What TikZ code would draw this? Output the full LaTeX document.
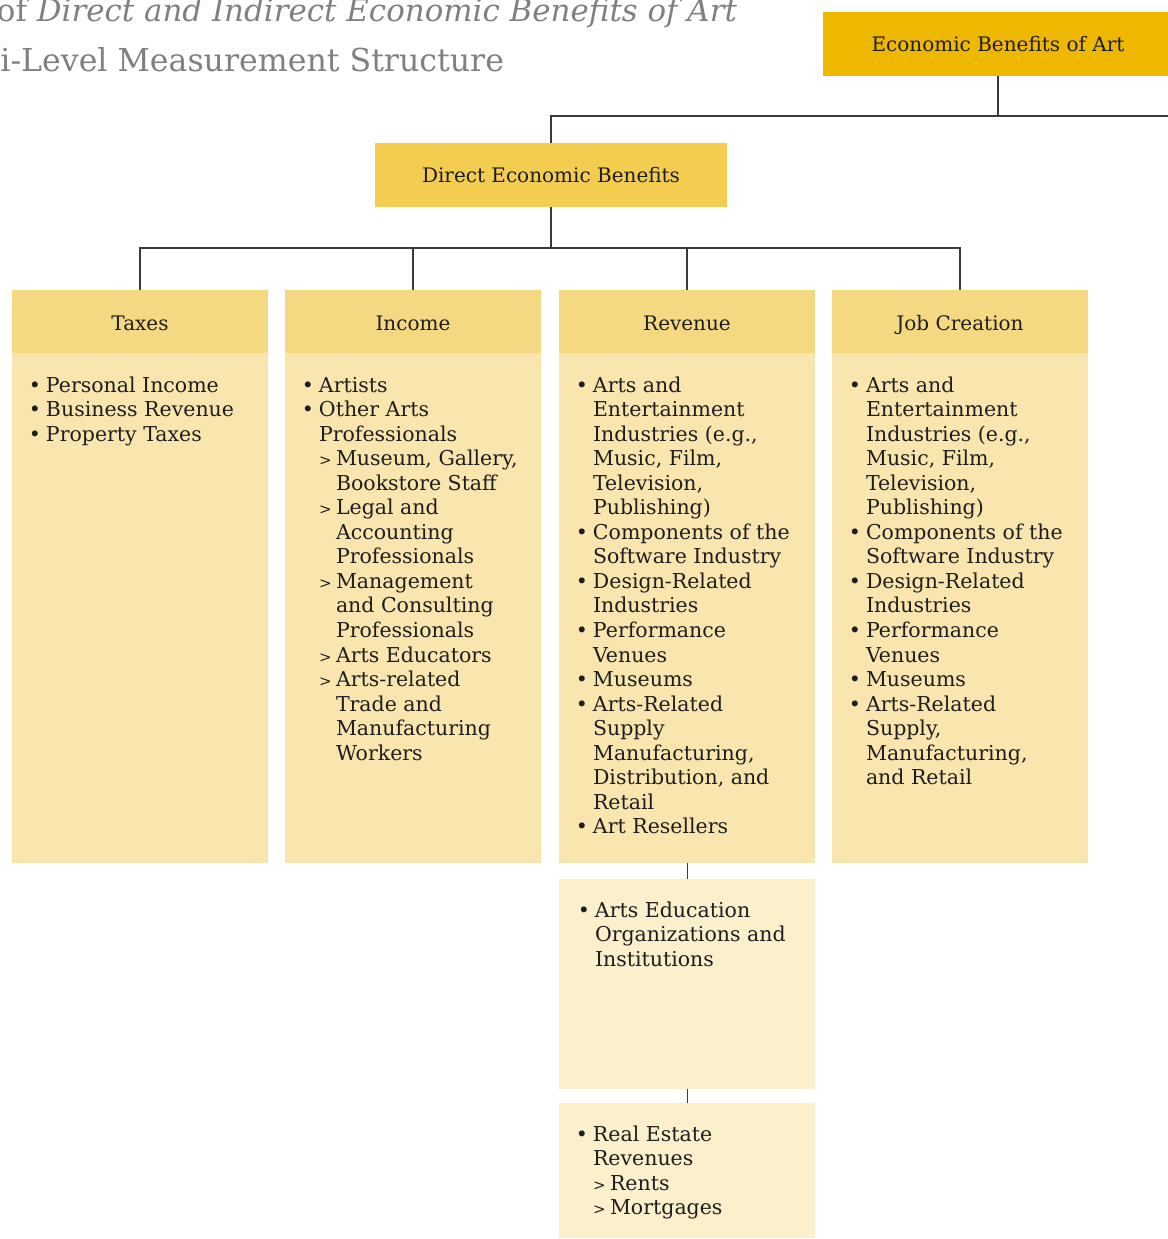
\documentclass[tikz,border=0pt]{standalone}
\usepackage{fontspec}
\setmainfont{DejaVu Serif}
\definecolor{topC}{HTML}{EFB800}
\definecolor{dirC}{HTML}{F2CD50}
\definecolor{headC}{HTML}{F5D982}
\definecolor{bodyC}{HTML}{F9E6AF}
\definecolor{paleC}{HTML}{FCEFCB}
\definecolor{lineC}{HTML}{3A3A3A}
\definecolor{titleC}{HTML}{7F7F84}
\definecolor{txtC}{HTML}{1E1E1E}
\newcommand{\Bul}{\makebox[22pt][c]{•}}
\newcommand{\Cont}{\hspace*{22pt}}
\newcommand{\Sb}{\hspace*{22pt}\makebox[17pt][l]{\fontsize{15}{15}\selectfont >}}
\newcommand{\SbC}{\hspace*{39pt}}
\newcommand{\Lst}[1]{\parbox[t]{240pt}{\raggedright\fontsize{20.5}{24.55}\selectfont #1}}
\begin{document}
\begin{tikzpicture}[x=1pt,y=-1pt,
  every node/.style={inner sep=0pt,outer sep=0pt,text=txtC},
  head/.style={fill=headC,minimum width=256pt,minimum height=63pt,text height=18pt,text depth=0pt,font=\fontsize{20}{24}\selectfont},
  body/.style={fill=bodyC,anchor=north west,minimum width=256pt,minimum height=510pt},
  list/.style={anchor=base west},
  conn/.style={draw=lineC,line width=1.4pt},
  ttl/.style={anchor=base east,text=titleC}]
\useasboundingbox (0,0) rectangle (1167,1239);
% title
\node[ttl,font=\fontsize{30.9}{32}\selectfont] (t1) at (737,22) {of \textit{Direct and Indirect Economic Benefits of Art}};
\node[ttl,font=\fontsize{31.6}{32}\selectfont] (t2) at (504,71) {i-Level Measurement Structure};
% top level
\node[fill=topC,minimum width=350pt,minimum height=64pt,font=\fontsize{20}{24}\selectfont] (top) at (998,44) {Economic Benefits of Art};
\node[fill=dirC,minimum width=352pt,minimum height=64pt,font=\fontsize{20}{24}\selectfont] (dir) at (551,175) {Direct Economic Benefits};
% headers
\node[head] (taxH) at (140,321.5) {Taxes};
\node[head] (incH) at (413,321.5) {Income};
\node[head] (revH) at (687,321.5) {Revenue};
\node[head] (jobH) at (960,321.5) {Job Creation};
% bodies
\node[body] (taxB) at (12,353) {};
\node[body] (incB) at (285,353) {};
\node[body] (revB) at (559,353) {};
\node[body] (jobB) at (832,353) {};
\node[fill=paleC,anchor=north west,minimum width=256pt,minimum height=210pt] (rev2) at (559,879) {};
\node[fill=paleC,anchor=north west,minimum width=256pt,minimum height=135pt] (rev3) at (559,1103) {};
% lists
\node[list] (taxL) at (24,392) {\Lst{\Bul Personal Income\\ \Bul Business Revenue\\ \Bul Property Taxes}};
\node[list] (incL) at (297,392) {\Lst{\Bul Artists\\ \Bul Other Arts\\ \Cont Professionals\\
 \Sb Museum, Gallery,\\ \SbC Bookstore Staff\\ \Sb Legal and\\ \SbC Accounting\\ \SbC Professionals\\
 \Sb Management\\ \SbC and Consulting\\ \SbC Professionals\\ \Sb Arts Educators\\ \Sb Arts-related\\
 \SbC Trade and\\ \SbC Manufacturing\\ \SbC Workers}};
\node[list] (revL) at (571,392) {\Lst{\Bul Arts and\\ \Cont Entertainment\\ \Cont Industries (e.g.,\\ \Cont Music, Film,\\
 \Cont Television,\\ \Cont Publishing)\\ \Bul Components of the\\ \Cont Software Industry\\ \Bul Design-Related\\
 \Cont Industries\\ \Bul Performance\\ \Cont Venues\\ \Bul Museums\\ \Bul Arts-Related\\ \Cont Supply\\
 \Cont Manufacturing,\\ \Cont Distribution, and\\ \Cont Retail\\ \Bul Art Resellers}};
\node[list] (jobL) at (844,392) {\Lst{\Bul Arts and\\ \Cont Entertainment\\ \Cont Industries (e.g.,\\ \Cont Music, Film,\\
 \Cont Television,\\ \Cont Publishing)\\ \Bul Components of the\\ \Cont Software Industry\\ \Bul Design-Related\\
 \Cont Industries\\ \Bul Performance\\ \Cont Venues\\ \Bul Museums\\ \Bul Arts-Related\\ \Cont Supply,\\
 \Cont Manufacturing,\\ \Cont and Retail}};
\node[list] (rev2L) at (573,917) {\Lst{\Bul Arts Education\\ \Cont Organizations and\\ \Cont Institutions}};
\node[list] (rev3L) at (571,1141) {\Lst{\Bul Real Estate\\ \Cont Revenues\\ \Sb Rents\\ \Sb Mortgages}};
% connectors
\coordinate (ind) at (1180,116);
\coordinate (j1) at (998,116);
\coordinate (j2) at (551,248);
\draw[conn] (top.south) -- (j1);
\draw[conn] (dir.north) |- (ind);
\draw[conn] (dir.south) -- (j2);
\draw[conn] (taxH.north) -- ++(0,-42) -| (jobH.north);
\draw[conn] (incH.north) -- (incH.north |- j2);
\draw[conn] (revH.north) -- (revH.north |- j2);
\draw[conn,line width=1pt] (revB.south -| revH.south) -- (rev2.north -| revH.south);
\draw[conn,line width=1pt] (rev2.south -| revH.south) -- (rev3.north -| revH.south);
\end{tikzpicture}
\end{document}
